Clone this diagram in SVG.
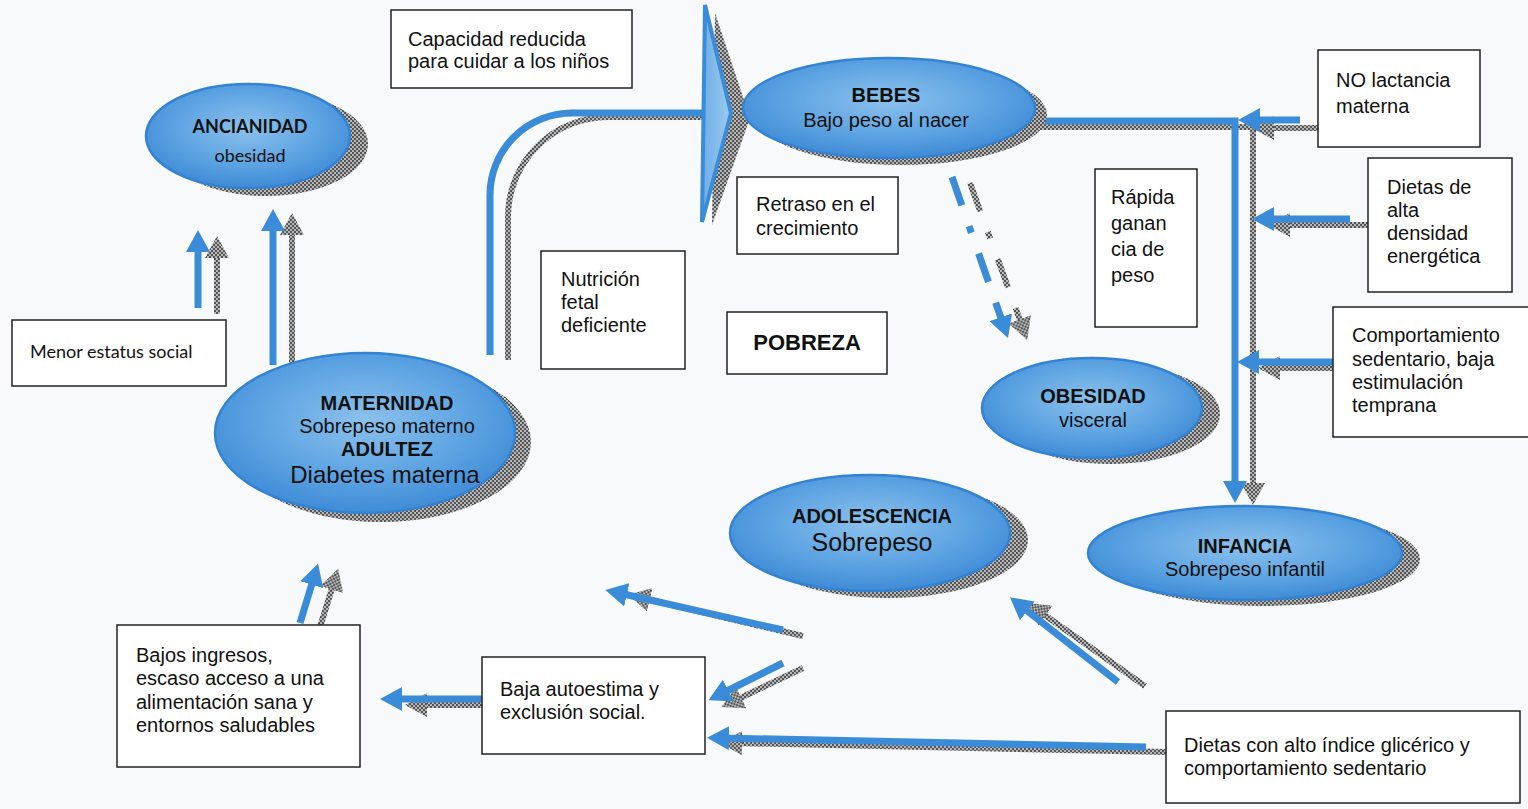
<svg xmlns="http://www.w3.org/2000/svg" width="1528" height="809" viewBox="0 0 1528 809">
<defs>
<pattern id="st" width="4" height="4" patternUnits="userSpaceOnUse">
<rect width="4" height="4" fill="#b8b8b8"/>
<rect width="2" height="2" fill="#555"/>
<rect x="2" y="2" width="2" height="2" fill="#555"/>
</pattern>
<radialGradient id="eg" cx="50%" cy="42%" r="60%">
<stop offset="0%" stop-color="#8cc1ec"/>
<stop offset="60%" stop-color="#5ca3e2"/>
<stop offset="100%" stop-color="#3c89d5"/>
</radialGradient>
<linearGradient id="tg" x1="0" y1="0" x2="1" y2="0">
<stop offset="0%" stop-color="#6eaee6"/>
<stop offset="100%" stop-color="#9ccbf0"/>
</linearGradient>
<marker id="ab" markerUnits="userSpaceOnUse" markerWidth="22" markerHeight="24" refX="8" refY="12" orient="auto">
<path d="M0,0 L22,12 L0,24 z" fill="#3a8bd8"/>
</marker>
<marker id="ag" markerUnits="userSpaceOnUse" markerWidth="22" markerHeight="24" refX="8" refY="12" orient="auto">
<path d="M0,0 L22,12 L0,24 z" fill="url(#st)"/>
</marker>
<style>
.box{fill:#fff;stroke:#222;stroke-width:1.5}
.bt{font-family:"Liberation Sans",Arial,sans-serif;font-size:20px;fill:#111}
.ct{font-family:Lato,"Liberation Sans",sans-serif;font-size:18px;fill:#111}
.el{fill:url(#eg);stroke:#3483d2;stroke-width:2.5}
.sh{fill:url(#st)}
.et{font-family:"Liberation Sans",Arial,sans-serif;font-size:20px;fill:#111;text-anchor:middle}
.b{font-weight:bold}
.big{font-size:24px}
.big2{font-size:25px}
.pob{font-size:22px;text-anchor:middle}
.bl{fill:none;stroke:#3a8bd8;stroke-width:7;marker-end:url(#ab)}
.gr{fill:none;stroke:url(#st);stroke-width:6;marker-end:url(#ag)}
</style>
</defs>
<rect width="1528" height="809" fill="#f8f9fb"/>

<g id="connectors">
<line class="gr" x1="217" y1="314" x2="217" y2="250"/>
<line class="gr" x1="292" y1="370" x2="292" y2="227"/>
<path fill="none" stroke="url(#st)" stroke-width="6" d="M508,360 V217 A100,100 0 0 1 608,117 H712"/>
<polygon points="715,13 750,118 712,225" fill="url(#st)"/>
<path class="gr" d="M1035,127 H1253 V491"/>
<line class="gr" x1="1318" y1="128" x2="1266" y2="128"/>
<line class="gr" x1="1368" y1="225" x2="1282" y2="225"/>
<line class="gr" x1="1352" y1="368" x2="1272" y2="368"/>
<line class="gr" x1="970" y1="183" x2="1022.4" y2="326.8" stroke-dasharray="30 22 7 22 30 22"/>
<line class="gr" x1="1145" y1="686" x2="1039" y2="611"/>
<line class="gr" x1="803" y1="636" x2="642" y2="598"/>
<line class="gr" x1="803" y1="668" x2="734" y2="701"/>
<line class="gr" x1="1166" y1="752" x2="734" y2="743"/>
<line class="gr" x1="497" y1="705" x2="419" y2="705"/>
<line class="gr" x1="320" y1="627" x2="334" y2="582"/>
<line class="bl" x1="198" y1="308" x2="198" y2="244"/>
<line class="bl" x1="273" y1="365" x2="273" y2="223"/>
<path fill="none" stroke="#3a8bd8" stroke-width="7" d="M490,355 V195 A82,82 0 0 1 572,113 H706"/>
<polygon points="705,5 731,113 702,222" fill="url(#tg)" stroke="#3a8bd8" stroke-width="4"/>
<path class="bl" d="M1030,121 H1235 V489"/>
<line class="bl" x1="1300" y1="120" x2="1252" y2="120"/>
<line class="bl" x1="1350" y1="219" x2="1266" y2="219"/>
<line class="bl" x1="1335" y1="362" x2="1251" y2="362"/>
<line class="bl" x1="952" y1="177" x2="1003.4" y2="324.8" stroke-dasharray="30 22 7 22 30 22"/>
<line class="bl" x1="1118" y1="682" x2="1021" y2="606"/>
<line class="bl" x1="783" y1="630" x2="619" y2="593"/>
<line class="bl" x1="783" y1="663" x2="721" y2="694"/>
<line class="bl" x1="1146" y1="747" x2="721" y2="738"/>
<line class="bl" x1="482" y1="699" x2="394" y2="699"/>
<line class="bl" x1="300" y1="623" x2="314" y2="577"/>
</g>

<g id="ancianidad">
<ellipse class="sh" cx="266" cy="144" rx="102" ry="52"/>
<ellipse class="el" cx="248" cy="136" rx="102" ry="52"/>
<text class="ct b" x="250" y="133" text-anchor="middle">ANCIANIDAD</text>
<text class="ct" x="250" y="162" text-anchor="middle">obesidad</text>
</g>

<g id="maternidad">
<ellipse class="sh" cx="381" cy="442" rx="150" ry="80"/>
<ellipse class="el" cx="365" cy="433" rx="150" ry="80"/>
<text class="et b" x="387" y="410">MATERNIDAD</text>
<text class="et" x="387" y="433">Sobrepeso materno</text>
<text class="et b" x="387" y="456">ADULTEZ</text>
<text class="et big" x="385" y="483">Diabetes materna</text>
</g>

<g id="bebes">
<ellipse class="sh" cx="901" cy="115" rx="146" ry="50"/>
<ellipse class="el" cx="889" cy="108" rx="146" ry="50"/>
<text class="et b" x="886" y="102">BEBES</text>
<text class="et" x="886" y="127">Bajo peso al nacer</text>
</g>

<g id="obesidad">
<ellipse class="sh" cx="1110" cy="414" rx="110" ry="50"/>
<ellipse class="el" cx="1092" cy="408" rx="110" ry="50"/>
<text class="et b" x="1093" y="403">OBESIDAD</text>
<text class="et" x="1093" y="427">visceral</text>
</g>

<g id="infancia">
<ellipse class="sh" cx="1263" cy="559" rx="157" ry="47"/>
<ellipse class="el" cx="1245" cy="553" rx="157" ry="47"/>
<text class="et b" x="1245" y="553">INFANCIA</text>
<text class="et" x="1245" y="576">Sobrepeso infantil</text>
</g>

<g id="adolescencia">
<ellipse class="sh" cx="888" cy="540" rx="140" ry="58"/>
<ellipse class="el" cx="870" cy="533" rx="140" ry="58"/>
<text class="et b" x="872" y="523">ADOLESCENCIA</text>
<text class="et big2" x="872" y="551">Sobrepeso</text>
</g>

<g id="capacidad">
<rect class="box" x="391" y="10" width="241" height="78"/>
<text class="bt" x="408" y="46">Capacidad reducida</text>
<text class="bt" x="408" y="68">para cuidar a los niños</text>
</g>

<g id="menor-estatus">
<rect class="box" x="12" y="320" width="214" height="66"/>
<text class="ct" x="30" y="358">Menor estatus social</text>
</g>

<g id="nutricion">
<rect class="box" x="541" y="251" width="144" height="118"/>
<text class="bt" x="561" y="286">Nutrición</text>
<text class="bt" x="561" y="309">fetal</text>
<text class="bt" x="561" y="332">deficiente</text>
</g>

<g id="retraso">
<rect class="box" x="737" y="177" width="161" height="77"/>
<text class="bt" x="756" y="211">Retraso en el</text>
<text class="bt" x="756" y="235">crecimiento</text>
</g>

<g id="pobreza">
<rect class="box" x="727" y="312" width="160" height="62"/>
<text class="bt b pob" x="807" y="350">POBREZA</text>
</g>

<g id="rapida">
<rect class="box" x="1095" y="169" width="102" height="158"/>
<text class="bt" x="1111" y="204">Rápida</text>
<text class="bt" x="1111" y="230">ganan</text>
<text class="bt" x="1111" y="256">cia de</text>
<text class="bt" x="1111" y="282">peso</text>
</g>

<g id="no-lactancia">
<rect class="box" x="1318" y="50" width="162" height="97"/>
<text class="bt" x="1336" y="87">NO lactancia</text>
<text class="bt" x="1336" y="113">materna</text>
</g>

<g id="dietas-alta">
<rect class="box" x="1368" y="158" width="144" height="134"/>
<text class="bt" x="1387" y="194">Dietas de</text>
<text class="bt" x="1387" y="217">alta</text>
<text class="bt" x="1387" y="240">densidad</text>
<text class="bt" x="1387" y="263">energética</text>
</g>

<g id="comportamiento">
<rect class="box" x="1333" y="307" width="200" height="130"/>
<text class="bt" x="1352" y="342">Comportamiento</text>
<text class="bt" x="1352" y="366">sedentario, baja</text>
<text class="bt" x="1352" y="389">estimulación</text>
<text class="bt" x="1352" y="412">temprana</text>
</g>

<g id="bajos-ingresos">
<rect class="box" x="117" y="625" width="243" height="142"/>
<text class="bt" x="136" y="662">Bajos ingresos,</text>
<text class="bt" x="136" y="685">escaso acceso a una</text>
<text class="bt" x="136" y="709">alimentación sana y</text>
<text class="bt" x="136" y="732">entornos saludables</text>
</g>

<g id="baja-autoestima">
<rect class="box" x="482" y="657" width="223" height="97"/>
<text class="bt" x="500" y="696">Baja autoestima y</text>
<text class="bt" x="500" y="719">exclusión social.</text>
</g>

<g id="dietas-glicerico">
<rect class="box" x="1166" y="711" width="354" height="92"/>
<text class="bt" x="1184" y="752">Dietas con alto índice glicérico y</text>
<text class="bt" x="1184" y="775">comportamiento sedentario</text>
</g>
</svg>
